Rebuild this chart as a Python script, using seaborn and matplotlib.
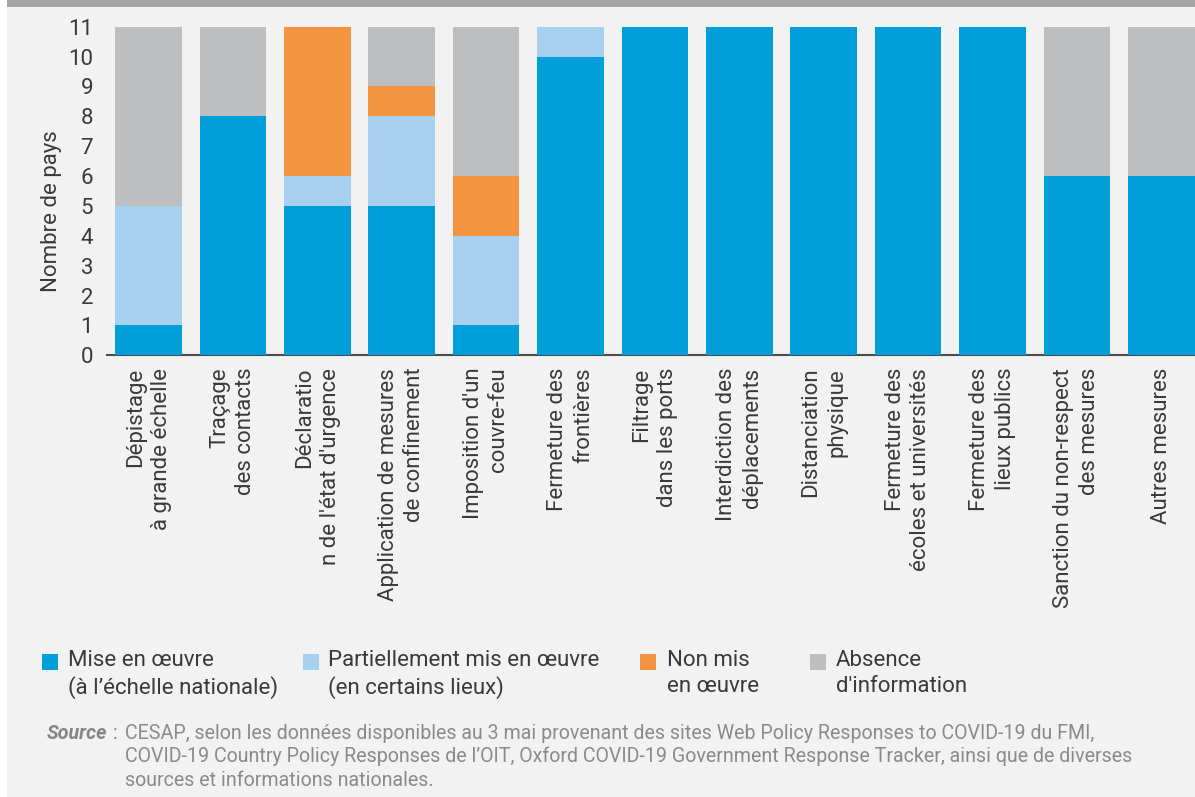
import numpy as np
import pandas as pd
import matplotlib
matplotlib.use("Agg")
import matplotlib.pyplot as plt
from matplotlib.patches import Rectangle
import seaborn as sns

# ---- data -------------------------------------------------------------
categories = [
    "Dépistage\nà grande échelle",
    "Traçage\ndes contacts",
    "Déclaratio\nn de l'état d'urgence",
    "Application de mesures\nde confinement",
    "Imposition d'un\ncouvre-feu",
    "Fermeture des\nfrontières",
    "Filtrage\ndans les ports",
    "Interdiction des\ndéplacements",
    "Distanciation\nphysique",
    "Fermeture des\nécoles et universités",
    "Fermeture des\nlieux publics",
    "Sanction du non-respect\ndes mesures",
    "Autres mesures",
]
mise_en_oeuvre = [1, 8, 5, 5, 1, 10, 11, 11, 11, 11, 11, 6, 6]
partiellement = [4, 0, 1, 3, 3, 1, 0, 0, 0, 0, 0, 0, 0]
non_mis = [0, 0, 5, 1, 2, 0, 0, 0, 0, 0, 0, 0, 0]
absence = [6, 3, 0, 2, 5, 0, 0, 0, 0, 0, 0, 5, 5]

series_labels = [
    "Mise en œuvre\n(à l’échelle nationale)",
    "Partiellement mis en œuvre\n(en certains lieux)",
    "Non mis\nen œuvre",
    "Absence\nd'information",
]
series_colors = ["#009FDA", "#A8D0EF", "#F39540", "#BDBEC0"]
y_ticks = list(range(0, 12))
y_title = "Nombre de pays"
source_lines = [
    "CESAP, selon les données disponibles au 3 mai provenant des sites Web Policy Responses to COVID-19 du FMI,",
    "COVID-19 Country Policy Responses de l’OIT, Oxford COVID-19 Government Response Tracker, ainsi que de diverses",
    "sources et informations nationales.",
]

# ---- style ------------------------------------------------------------
sns.set_theme(style="white")
plt.rcParams["font.family"] = ["Roboto", "DejaVu Sans"]
TEXT = "#3a3a3a"
FS = 16

W, H = 1195, 797
fig = plt.figure(figsize=(W / 100, H / 100), dpi=100, facecolor="white")

# page background and top band
fig.patches.append(Rectangle((7 / W, 0), 1 - 7 / W, 1 - 7 / H,
                             transform=fig.transFigure, facecolor="#F2F2F2",
                             edgecolor="none", zorder=-10))
fig.patches.append(Rectangle((7 / W, 1 - 7 / H), 1 - 7 / W, 7 / H,
                             transform=fig.transFigure, facecolor="#A6A6A6",
                             edgecolor="none", zorder=-9))

ax = fig.add_axes([107 / W, 1 - 355.3 / H, (W - 107) / W, 328.6 / H])
ax.set_facecolor("none")

# stacked bars: draw cumulative totals from the top segment down
stack = np.array([mise_en_oeuvre, partiellement, non_mis, absence], dtype=float)
cumulative = np.cumsum(stack, axis=0)
for level in range(len(series_labels) - 1, -1, -1):
    df = pd.DataFrame({"categorie": categories, "valeur": cumulative[level]})
    sns.barplot(data=df, x="categorie", y="valeur", color=series_colors[level],
                saturation=1, width=0.79, linewidth=0, errorbar=None, ax=ax,
                zorder=3)

ax.set_xlim(-0.492, 12.4)
ax.set_ylim(0, 11)
ax.set_xlabel("")
ax.set_ylabel(y_title, fontsize=FS, color=TEXT)
ax.yaxis.set_label_coords(-0.041, 0.44)

ax.set_yticks(y_ticks)
ax.set_yticks(range(2, 11, 2), minor=True)
ax.grid(False)
ax.grid(which="minor", axis="y", color="#7A7A7A", linewidth=1.3, zorder=0)
ax.set_axisbelow(True)
ax.tick_params(axis="y", which="both", length=0, pad=10, labelsize=FS,
               labelcolor=TEXT)
ax.tick_params(axis="x", length=0, pad=9, labelsize=FS, labelcolor=TEXT)
for lab in ax.get_xticklabels():
    lab.set_rotation(90)
    lab.set_ha("center")
    lab.set_va("top")
    lab.set_multialignment("right")
    lab.set_linespacing(1.3)

for side in ["top", "right", "left"]:
    ax.spines[side].set_visible(False)
ax.spines["bottom"].set_color("#4D4D4D")
ax.spines["bottom"].set_linewidth(1.5)

# legend entries: colour square + two-line label
handle_x = [42, 303, 640, 810]
text_x = [68, 328, 667, 836]
for hx, tx, col, lab in zip(handle_x, text_x, series_colors, series_labels):
    fig.patches.append(Rectangle((hx / W, 1 - 670 / H), 16 / W, 16 / H,
                                 transform=fig.transFigure, facecolor=col,
                                 edgecolor="none"))
    fig.text(tx / W, 1 - 650 / H, lab, ha="left", va="top", fontsize=FS,
             color=TEXT, linespacing=1.3)

# source note
SFS = 14.1
src_y = 1 - 739 / H
fig.text(47 / W, src_y, "Source", fontsize=SFS, color="#858585",
         fontweight="bold", style="italic", va="baseline")
fig.text(113 / W, src_y, ":", fontsize=SFS, color="#858585", va="baseline")
for i, line in enumerate(source_lines):
    fig.text(125 / W, 1 - (739 + 23.5 * i) / H, line, fontsize=SFS,
             color="#8A8A8A", va="baseline")

fig.savefig("out.png", dpi=100, facecolor=fig.get_facecolor())
